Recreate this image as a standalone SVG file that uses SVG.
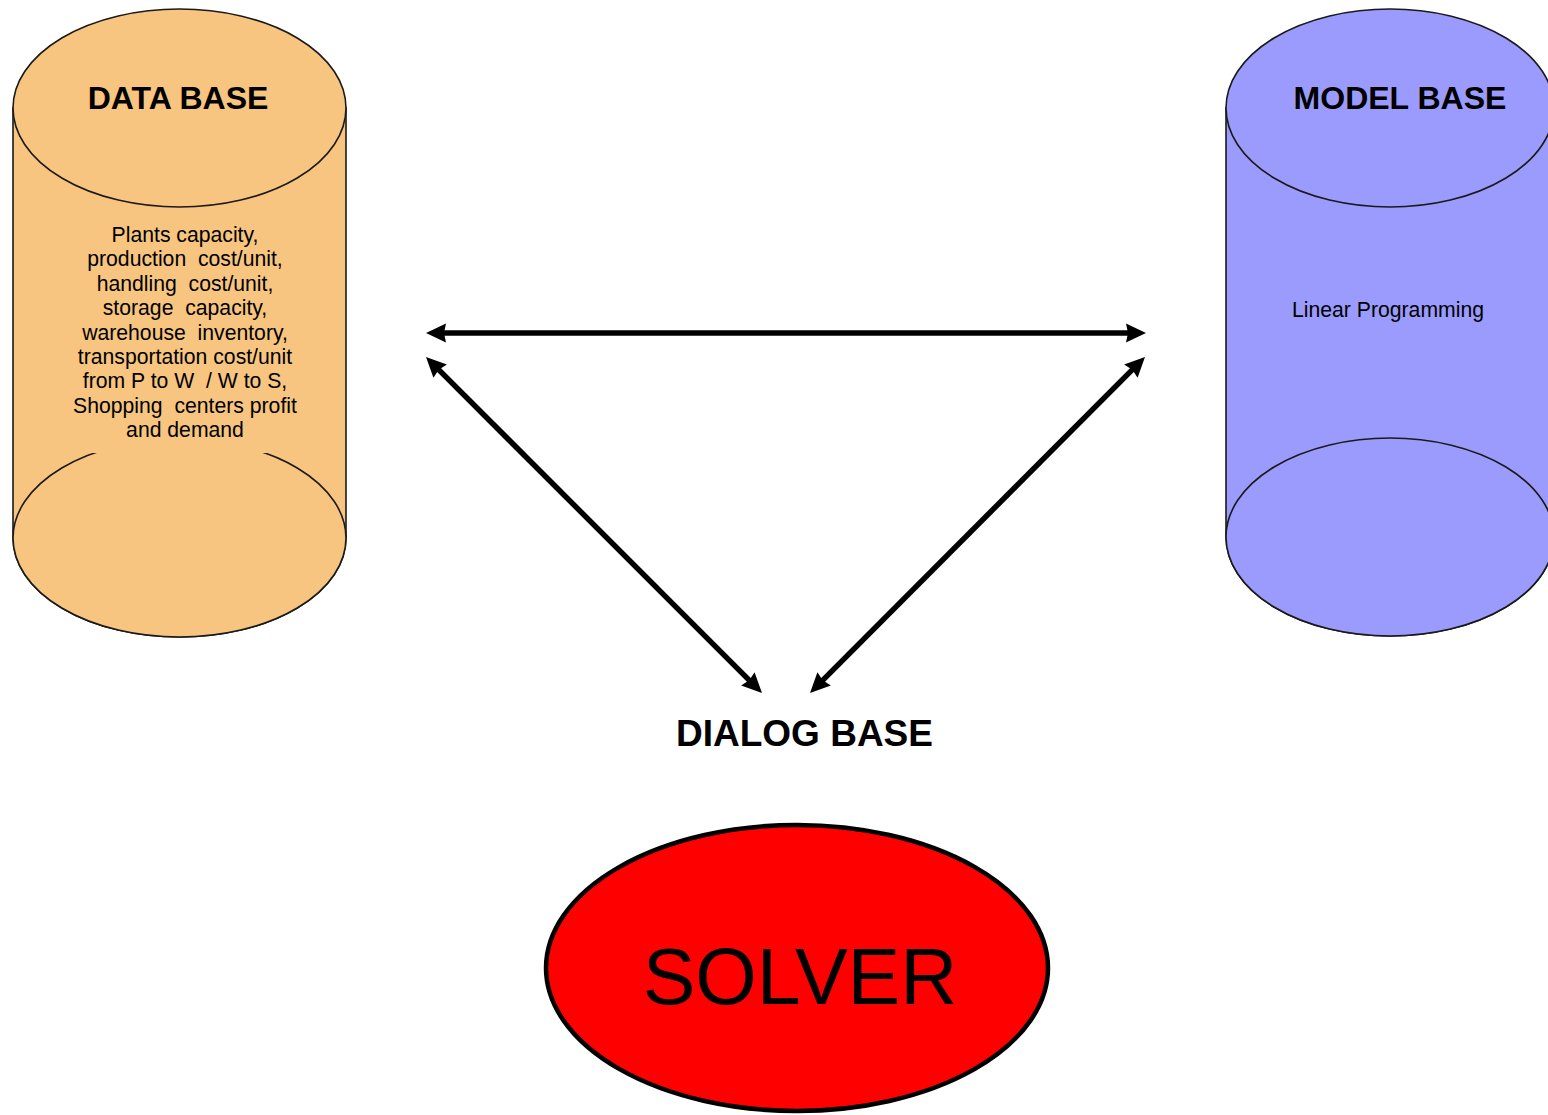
<svg xmlns="http://www.w3.org/2000/svg" width="1548" height="1115" viewBox="0 0 1548 1115">
  <style>
    .cyl { stroke: #1a1a1a; stroke-width: 1.6; }
    .db { fill: #F7C57F; }
    .mb { fill: #9B9BFD; }
    .title { font-family: "Liberation Sans", Arial, sans-serif; font-weight: bold; fill: #000; text-anchor: middle; }
    .body { font-family: "Liberation Sans", Arial, sans-serif; font-size: 21.2px; fill: #000; text-anchor: middle; white-space: pre; }
    .conn { stroke: #000; stroke-width: 5.5; fill: none; marker-start: url(#head); marker-end: url(#head); }
  </style>
  <defs>
    <!-- solid arrowhead; the line stops inside it so the tip stays sharp -->
    <marker id="head" viewBox="0 0 20 20" refX="6" refY="10" markerWidth="20" markerHeight="20" markerUnits="userSpaceOnUse" orient="auto-start-reverse">
      <path d="M0,0.5 L20,10 L0,19.5 L2,10 Z" fill="#000"/>
    </marker>
  </defs>

  <rect width="1548" height="1115" fill="#fff"/>

  <!-- DATA BASE cylinder -->
  <g id="data-base">
    <path class="cyl db" d="M13,108 L13,538 A166.5,99 0 0 0 346,538 L346,108 Z"/>
    <ellipse class="cyl db" cx="179.5" cy="538" rx="166.5" ry="99"/>
    <ellipse class="cyl db" cx="179.5" cy="108" rx="166.5" ry="99"/>
    <!-- text panel hides the back rim of the base -->
    <rect class="db" x="60" y="215" width="250" height="238"/>
    <text class="title" x="178" y="109" font-size="32">DATA BASE</text>
    <text class="body" x="185" y="242">Plants capacity,</text>
    <text class="body" x="185" y="266.4">production  cost/unit,</text>
    <text class="body" x="185" y="290.8">handling  cost/unit,</text>
    <text class="body" x="185" y="315.2">storage  capacity,</text>
    <text class="body" x="185" y="339.6">warehouse  inventory,</text>
    <text class="body" x="185" y="364">transportation cost/unit</text>
    <text class="body" x="185" y="388.4">from P to W  / W to S,</text>
    <text class="body" x="185" y="412.8">Shopping  centers profit</text>
    <text class="body" x="185" y="437.2">and demand</text>
  </g>

  <!-- MODEL BASE cylinder -->
  <g id="model-base">
    <path class="cyl mb" d="M1226,108 L1226,537 A164,99 0 0 0 1554,537 L1554,108 Z"/>
    <ellipse class="cyl mb" cx="1390" cy="537" rx="164" ry="99"/>
    <ellipse class="cyl mb" cx="1390" cy="108" rx="164" ry="99"/>
    <text class="title" x="1400" y="109" font-size="32">MODEL BASE</text>
    <text class="body" x="1388" y="317">Linear Programming</text>
  </g>

  <!-- DIALOG BASE label -->
  <g id="dialog-base">
    <text class="title" x="804.5" y="746" font-size="37">DIALOG BASE</text>
  </g>

  <!-- SOLVER -->
  <g id="solver">
    <ellipse cx="797" cy="968" rx="251" ry="143" fill="#FF0000" stroke="#000" stroke-width="4.5"/>
    <text x="800" y="1004" font-family="Liberation Sans, Arial, sans-serif" font-size="79" text-anchor="middle" fill="#000">SOLVER</text>
  </g>

  <!-- connectors (two-way arrows) -->
  <g id="connectors">
    <line class="conn" x1="440" y1="333" x2="1132" y2="333"/>
    <line class="conn" x1="435.9" y1="366.9" x2="752.1" y2="683.1"/>
    <line class="conn" x1="1135.1" y1="366.9" x2="819.9" y2="683.1"/>
  </g>
</svg>
